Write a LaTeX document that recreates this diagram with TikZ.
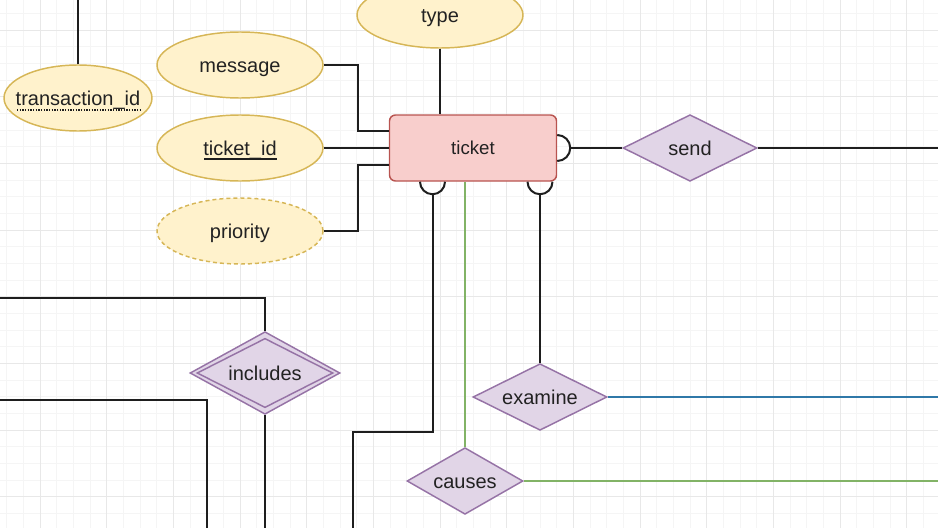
\documentclass[tikz,border=0pt]{standalone}
\usepackage{fontspec}
\setmainfont{Liberation Sans}
\usetikzlibrary{shapes.geometric,calc}

\definecolor{attrfill}{HTML}{FFF2CC}
\definecolor{attrline}{HTML}{D6B656}
\definecolor{relfill}{HTML}{E1D5E7}
\definecolor{relline}{HTML}{9673A6}
\definecolor{entfill}{HTML}{F8CECC}
\definecolor{entline}{HTML}{B85450}
\definecolor{linkgreen}{HTML}{82B366}
\definecolor{linkblue}{HTML}{2F78A8}
\definecolor{linkdark}{HTML}{1E1E1E}
\definecolor{textdark}{HTML}{222222}
\definecolor{gridminor}{HTML}{F5F5F5}
\definecolor{gridmajor}{HTML}{E8E8E8}

\tikzset{
	attr/.style={ellipse, draw=attrline, fill=attrfill, line width=1.1pt,
		minimum width=124.5pt, minimum height=49.5pt, inner sep=0pt,
		text height=10.75pt, text depth=0pt,
		text=textdark, font=\fontsize{15}{18}\selectfont},
	rel/.style={diamond, aspect=2, draw=relline, fill=relfill, line width=1.1pt,
		minimum width=100.5pt, minimum height=50pt, inner sep=0pt,
		text height=10.75pt, text depth=0pt,
		text=textdark, font=\fontsize{15}{18}\selectfont},
	entity/.style={rectangle, rounded corners=4.5pt, draw=entline, fill=entfill,
		line width=1.1pt, minimum width=125.25pt, minimum height=49.5pt,
		text height=10pt, text depth=0pt,
		text=textdark, font=\fontsize{14}{17}\selectfont},
	link/.style={draw=linkdark, line width=1.5pt},
}

\begin{document}
\begin{tikzpicture}[x=0.75pt,y=-0.75pt]
		\useasboundingbox (0,0) rectangle (938,528);
		% grid
		\foreach \i in {0,...,57}
			\draw[gridminor,line width=0.6pt] (-10+16.667*\i,0) -- (-10+16.667*\i,528);
		\foreach \j in {0,...,32}
			\draw[gridminor,line width=0.6pt] (0,-3.3+16.667*\j) -- (938,-3.3+16.667*\j);
		\foreach \i in {0,...,14}
			\draw[gridmajor,line width=0.6pt] (40+66.667*\i,0) -- (40+66.667*\i,528);
		\foreach \j in {0,...,7}
			\draw[gridmajor,line width=0.6pt] (0,30+66.667*\j) -- (938,30+66.667*\j);
		% free ends at the edges
		\coordinate (top tid) at (78,0);
		\coordinate (left a) at (0,298);
		\coordinate (left b) at (0,400);
		\coordinate (bottom b) at (207,528);
		\coordinate (bottom c) at (353,528);
		\coordinate (right send) at (938,148);
		\coordinate (right exam) at (938,397);
		\coordinate (right cause) at (938,481);
		% attributes
		\node[attr,minimum width=111pt,inner xsep=-15pt] (tid) at (78,98) {transaction\_id};
		\node[attr] (msg) at (240,65) {message};
		\node[attr] (tkid) at (240,148) {ticket\_id};
		\node[attr,dash pattern=on 3pt off 2.25pt] (prio) at (240,231) {priority};
		\node[attr] (type) at (440,15) {type};
		% entity
		\node[entity] (ticket) at (473,148) {ticket};
		% relations
		\node[rel] (send) at (690,148) {send};
		\node[rel] (exam) at (540,397) {examine};
		\node[rel,minimum width=87pt] (cause) at (465,481) {causes};
		\node[rel,minimum width=112.5pt,minimum height=62pt] (incl) at (265,373) {includes};
		\node[diamond,aspect=2,draw=relline,line width=1.1pt,minimum width=102pt,
			minimum height=52pt,inner sep=0pt] (incl in) at (incl.center) {};
		% key underlines
		\draw[linkdark,line width=1pt,densely dotted] ($(tid.center)+(-61,12)$) -- ($(tid.center)+(62,12)$);
		\draw[linkdark,line width=1.3pt] ($(tkid.center)+(-36,11)$) -- ($(tkid.center)+(37,11)$);
		% links
		\draw[link] (tid.north) -- (top tid);
		\draw[link] (msg.east) -- ++(34,0) |- ([yshift=12.75pt]ticket.west);
		\draw[link] (tkid.east) -- (ticket.west);
		\draw[link] (prio.east) -- ++(34,0) |- ([yshift=-12.75pt]ticket.west);
		\draw[link] (type.south) -- (type.south |- ticket.north);
		\draw[link] ([yshift=9.75pt]ticket.east) arc[start angle=-90,end angle=90,radius=13];
		\draw[link] ($(ticket.east)+(13,0)$) -- (send.west);
		\draw[link] (send.east) -- (right send);
		\draw[link] ($(ticket.south)+(-53,0)$) arc[start angle=180,end angle=0,radius=12.5];
		\draw[link] ($(ticket.south)+(-40.5,12.5)$) -- ++(0,237.5) -| (bottom c);
		\draw[link] ($(ticket.south)+(54.5,0)$) arc[start angle=180,end angle=0,radius=12.5];
		\draw[link] ($(ticket.south)+(67,12.5)$) -- (exam.north);
		\draw[linkgreen,line width=1.5pt] (ticket.south -| cause.north) -- (cause.north);
		\draw[linkgreen,line width=1.5pt] (cause.east) -- (right cause);
		\draw[linkblue,line width=1.5pt] (exam.east) -- (right exam);
		\draw[link] (incl.north) |- (left a);
		\draw[link] (incl.south) -- (incl.south |- bottom b);
		\draw[link] (left b) -| (bottom b);
	\end{tikzpicture}
\end{document}
